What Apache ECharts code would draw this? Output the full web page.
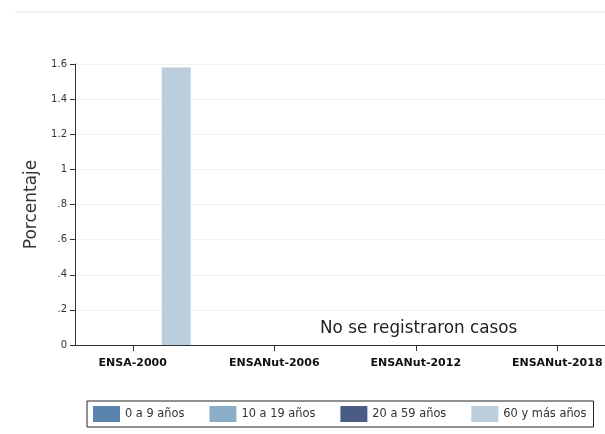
<!DOCTYPE html>
<html><head><meta charset="utf-8">
<script src="https://cdn.jsdelivr.net/npm/echarts@6/dist/echarts.min.js"></script>
<style>html,body{margin:0;padding:0;background:#fff}#c{width:605px;height:434px}</style>
</head><body><div id="c"></div>
<script>
const categories = ['ENSA-2000', 'ENSANut-2006', 'ENSANut-2012', 'ENSANut-2018'];
const seriesNames = ['0 a 9 años', '10 a 19 años', '20 a 59 años', '60 y más años'];
const v0a9 = [0, 0, 0, 0];
const v10a19 = [0, 0, 0, 0];
const v20a59 = [0, 0, 0, 0];
const v60mas = [1.58, 0, 0, 0];
const yTicks = [0, 0.2, 0.4, 0.6, 0.8, 1, 1.2, 1.4, 1.6];
const yTickLabels = ['0', '.2', '.4', '.6', '.8', '1', '1.2', '1.4', '1.6'];
const note = 'No se registraron casos';

const colors = ['#5a84ae', '#8aaec8', '#4a5c86', '#bacedd'];
const values = [v0a9, v10a19, v20a59, v60mas];
const font = 'DejaVu Sans';

const chart = echarts.init(document.getElementById('c'));
chart.setOption({
  animation: false,
  textStyle: { fontFamily: font },
  grid: [
    { left: 75, top: 64, width: 530, height: 281, outerBoundsMode: 'none' },
    { left: 62, top: 64, width: 566, height: 281, outerBoundsMode: 'none' }
  ],
  xAxis: [
    { gridIndex: 0, type: 'value', min: 0, max: 1, axisLine: { show: true, lineStyle: { color: '#333', width: 1 } },
      axisTick: { show: false }, axisLabel: { show: false }, splitLine: { show: false } },
    { gridIndex: 1, type: 'category', data: categories, axisLine: { show: false },
      axisTick: { show: true, alignWithLabel: true, length: 6, lineStyle: { color: '#333' } },
      axisLabel: { fontSize: 11, fontWeight: 'bold', color: '#111', margin: 13, fontFamily: font } }
  ],
  yAxis: [
    { gridIndex: 0, type: 'value', min: 0, max: 1.6, interval: 0.2,
      name: 'Porcentaje', nameLocation: 'middle', nameGap: 28,
      nameTextStyle: { fontSize: 17, color: '#333', fontFamily: font },
      axisLine: { show: true, lineStyle: { color: '#333' } },
      axisTick: { show: true, length: 5, lineStyle: { color: '#333' } },
      axisLabel: { fontSize: 10, color: '#333', margin: 8,
        formatter: v => { const i = yTicks.findIndex(t => Math.abs(t - v) < 1e-6); return i >= 0 ? yTickLabels[i] : ''; } },
      splitLine: { show: true, lineStyle: { color: '#edf2f3', width: 1 } } },
    { gridIndex: 1, type: 'value', min: 0, max: 1.6, show: false }
  ],
  legend: {
    left: 87, top: 401, data: seriesNames, itemWidth: 27, itemHeight: 16, itemGap: 25,
    borderColor: '#222', borderWidth: 1, padding: [5, 7, 5, 6], borderRadius: 0,
    textStyle: { fontSize: 11.4, color: '#333', fontFamily: font },
    icon: 'rect'
  },
  graphic: [
    { type: 'line', shape: { x1: 15, y1: 12, x2: 605, y2: 12 }, style: { stroke: '#ebf0f0', lineWidth: 1.5 } },
    { type: 'text', left: 320, top: 320, style: { text: note, fontSize: 16.8, fill: '#222', fontFamily: font } }
  ],
  series: seriesNames.map((n, i) => ({
    name: n, type: 'bar', xAxisIndex: 1, yAxisIndex: 1, data: values[i],
    barWidth: 29, barGap: '0%',
    itemStyle: { color: colors[i], borderWidth: 0 }
  }))
});
</script></body></html>
